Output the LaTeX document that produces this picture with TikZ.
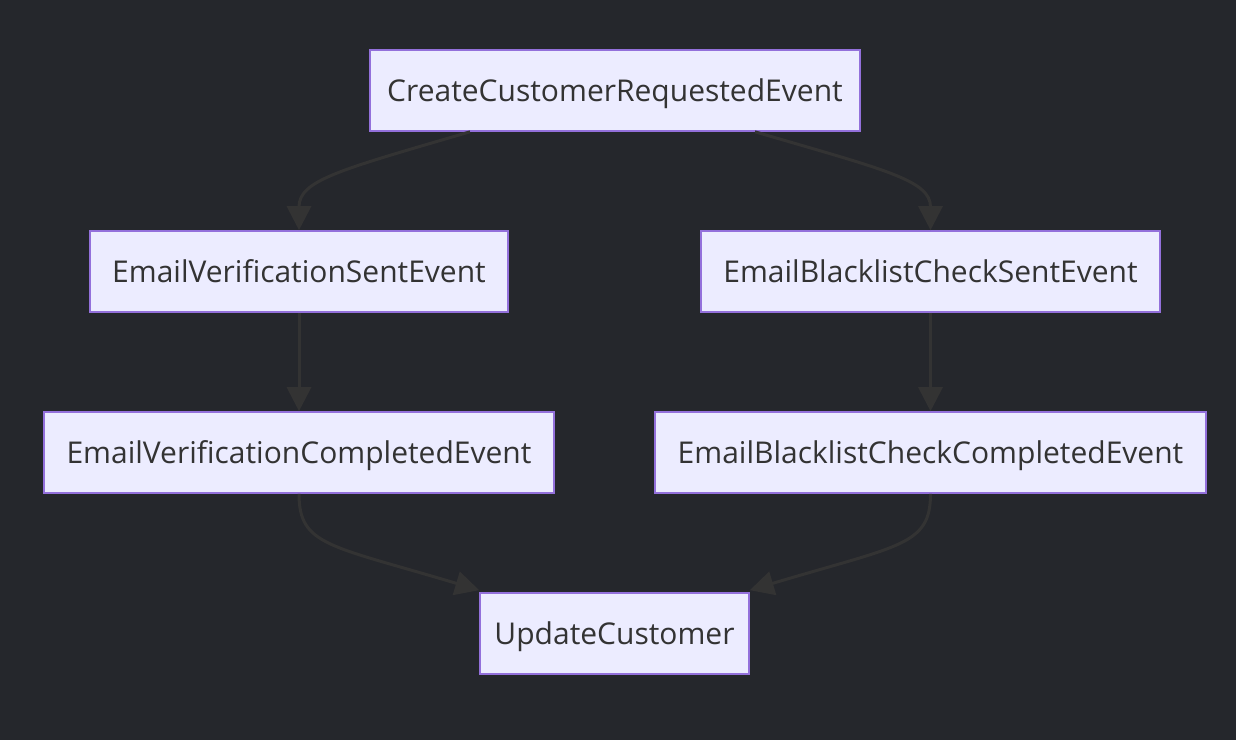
\documentclass[tikz,border=0pt]{standalone}
\usepackage{fontspec}
\setmainfont{Open Sans}
\usetikzlibrary{arrows.meta}
\definecolor{bgdark}{RGB}{37,39,44}
\definecolor{evfill}{RGB}{236,236,255}
\definecolor{evline}{RGB}{147,112,219}
\definecolor{evtext}{RGB}{51,51,51}
\definecolor{flowcol}{RGB}{51,51,51}
\tikzset{
  evt/.style={draw=evline,line width=1.6pt,fill=evfill,text=evtext,minimum height=81pt,inner sep=0pt,text height=24pt,text depth=2pt,font=\fontsize{30}{36}\selectfont},
  flow/.style={draw=flowcol,line width=3pt,-{Triangle[length=24pt,width=24pt]}}
}
\begin{document}
\begin{tikzpicture}[x=1pt,y=-1pt]
\fill[bgdark] (0,0) rectangle (1236,740);
\useasboundingbox (0,0) rectangle (1236,740);
\node[evt,minimum width=490pt] (create) at (615,90.5) {CreateCustomerRequestedEvent};
\node[evt,minimum width=418pt] (vsent) at (299,271.5) {EmailVerificationSentEvent};
\node[evt,minimum width=459pt] (bsent) at (930.5,271.5) {EmailBlacklistCheckSentEvent};
\node[evt,minimum width=510pt] (vdone) at (299,452.5) {EmailVerificationCompletedEvent};
\node[evt,minimum width=551pt] (bdone) at (930.5,452.5) {EmailBlacklistCheckCompletedEvent};
\node[evt,minimum width=269pt] (update) at (614.5,633.5) {UpdateCustomer};
% fan out
\draw[flow] ([xshift=-145pt]create.south) .. controls +(-130,38) and +(0,-50) .. (vsent.north);
\draw[flow] ([xshift=140pt]create.south) .. controls +(130,38) and +(0,-50) .. (bsent.north);
\draw[flow] (vsent) -- (vdone);
\draw[flow] (bsent) -- (bdone);
% join
\draw[flow] (vdone.south) .. controls +(0,52) and +(-150,-45) .. ([yshift=2pt]update.north west);
\draw[flow] (bdone.south) .. controls +(0,52) and +(150,-45) .. ([yshift=2pt]update.north east);
\end{tikzpicture}
\end{document}
